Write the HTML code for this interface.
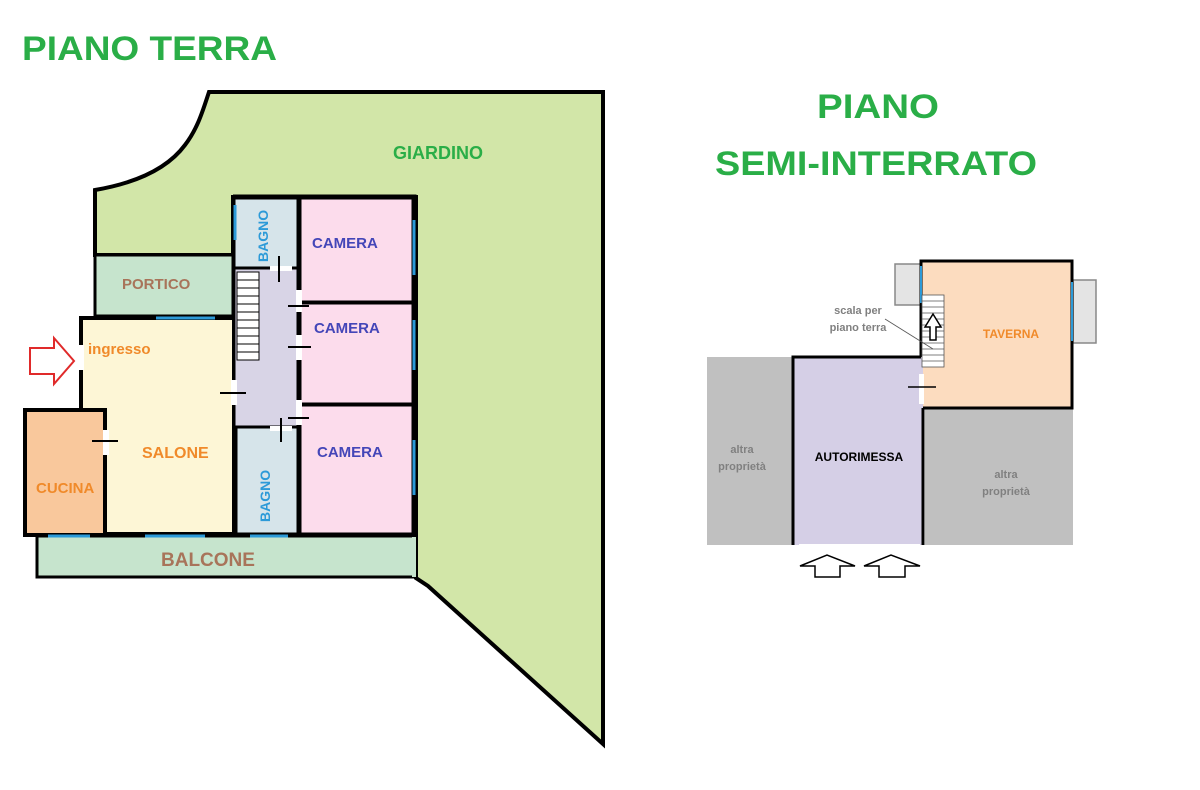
<!DOCTYPE html>
<html><head><meta charset="utf-8"><style>
html,body{margin:0;padding:0;background:#fff;}
svg{display:block;}
text{font-family:"Liberation Sans",sans-serif;font-weight:bold;}
</style></head><body>
<svg width="1200" height="790" viewBox="0 0 1200 790" xmlns="http://www.w3.org/2000/svg">
<rect width="1200" height="790" fill="#fff"/>
<!-- titles -->
<text x="22" y="60" font-size="34" fill="#2aae47" textLength="255" lengthAdjust="spacingAndGlyphs">PIANO TERRA</text>
<text x="817" y="118" font-size="34" fill="#2aae47" textLength="122" lengthAdjust="spacingAndGlyphs">PIANO</text>
<text x="715" y="175" font-size="34" fill="#2aae47" textLength="322" lengthAdjust="spacingAndGlyphs">SEMI-INTERRATO</text>

<!-- garden -->
<path d="M209,92 L603,92 L603,744 L428,586 L416,578 L416,197 L233,197 L233,255 L95,255 L95,190 C130,184 165,172 185,145 C198,128 203,110 209,92 Z" fill="#d2e6a8" stroke="#000" stroke-width="4" stroke-linejoin="miter"/>
<!-- cover inner edges of garden that are building -->
<!-- portico -->
<rect x="95" y="255" width="138" height="61" fill="#c6e4cd" stroke="#000" stroke-width="3"/>
<!-- salone -->
<rect x="81" y="318" width="153" height="216" fill="#fdf6d6" stroke="#000" stroke-width="4"/>
<!-- cucina -->
<rect x="25" y="410" width="80" height="125" fill="#f9c89c" stroke="#000" stroke-width="4"/>
<!-- corridor -->
<rect x="234" y="268" width="64" height="160" fill="#d8d4e6" stroke="#000" stroke-width="3"/>
<!-- bagni -->
<rect x="234" y="198" width="64" height="70" fill="#d6e4ea" stroke="#000" stroke-width="3"/>
<rect x="236" y="427" width="62" height="107" fill="#d6e4ea" stroke="#000" stroke-width="3"/>
<!-- camere -->
<rect x="300" y="198" width="114" height="104" fill="#fcdcec" stroke="#000" stroke-width="3"/>
<rect x="300" y="303" width="114" height="101" fill="#fcdcec" stroke="#000" stroke-width="3"/>
<rect x="300" y="405" width="114" height="129" fill="#fcdcec" stroke="#000" stroke-width="3"/>
<!-- outer building walls -->
<path d="M233,197 L414,197 L414,578" fill="none" stroke="#000" stroke-width="5"/>
<!-- balcone -->
<rect x="37" y="536" width="378" height="41" fill="#c6e4cd" stroke="#000" stroke-width="3"/>
<line x1="414" y1="537" x2="414" y2="577" stroke="#c6e4cd" stroke-width="4"/>
<!-- stairs -->
<g stroke="#000" stroke-width="1">
<rect x="237" y="272" width="22" height="88" fill="#fff"/>
<line x1="237" y1="280" x2="259" y2="280"/><line x1="237" y1="288" x2="259" y2="288"/><line x1="237" y1="296" x2="259" y2="296"/><line x1="237" y1="304" x2="259" y2="304"/><line x1="237" y1="312" x2="259" y2="312"/><line x1="237" y1="320" x2="259" y2="320"/><line x1="237" y1="328" x2="259" y2="328"/><line x1="237" y1="336" x2="259" y2="336"/><line x1="237" y1="344" x2="259" y2="344"/><line x1="237" y1="352" x2="259" y2="352"/>
</g>
<!-- door gaps -->
<g fill="#fff">
<rect x="78" y="345" width="6" height="25"/>
<rect x="103" y="430" width="6" height="25"/>
<rect x="231" y="380" width="6" height="25"/>
<rect x="296" y="290" width="6" height="22"/>
<rect x="296" y="335" width="6" height="25"/>
<rect x="296" y="400" width="6" height="25"/>
<rect x="270" y="266" width="22" height="5"/>
<rect x="270" y="426" width="22" height="5"/>
</g>
<g stroke="#000" stroke-width="2">
<line x1="92" y1="441" x2="118" y2="441"/>
<line x1="220" y1="393" x2="246" y2="393"/>
<line x1="288" y1="347" x2="311" y2="347"/>
<line x1="288" y1="306" x2="309" y2="306"/>
<line x1="288" y1="418" x2="309" y2="418"/>
<line x1="279" y1="256" x2="279" y2="282"/>
<line x1="281" y1="418" x2="281" y2="442"/>
</g>
<!-- windows -->
<g stroke="#2c9ad8" stroke-width="3">
<line x1="156" y1="318" x2="215" y2="318"/>
<line x1="48" y1="536" x2="90" y2="536"/>
<line x1="145" y1="536" x2="205" y2="536"/>
<line x1="250" y1="536" x2="288" y2="536"/>
<line x1="235" y1="205" x2="235" y2="240"/>
<line x1="414" y1="220" x2="414" y2="275"/>
<line x1="414" y1="320" x2="414" y2="370"/>
<line x1="414" y1="440" x2="414" y2="495"/>
</g>
<!-- entrance arrow -->
<path d="M30,348 L54,348 L54,338 L74,361 L54,384 L54,374 L30,374 Z" fill="#fff" stroke="#e02a2a" stroke-width="2"/>
<!-- labels -->
<text x="393" y="159" font-size="18" fill="#2aae47">GIARDINO</text>
<text x="122" y="289" font-size="15" fill="#a8745a">PORTICO</text>
<text x="88" y="354" font-size="15" fill="#f08a2a">ingresso</text>
<text x="142" y="458" font-size="16" fill="#f08a2a">SALONE</text>
<text x="36" y="493" font-size="15" fill="#f08a2a">CUCINA</text>
<text x="161" y="566" font-size="19" fill="#a8745a">BALCONE</text>
<text x="312" y="248" font-size="15" fill="#4446b8">CAMERA</text>
<text x="314" y="333" font-size="15" fill="#4446b8">CAMERA</text>
<text x="317" y="457" font-size="15" fill="#4446b8">CAMERA</text>
<text transform="translate(268,262) rotate(-90)" font-size="14" fill="#2c9ad8">BAGNO</text>
<text transform="translate(270,522) rotate(-90)" font-size="14" fill="#2c9ad8">BAGNO</text>

<!-- right plan -->
<rect x="707" y="357" width="86" height="188" fill="#c0c0c0"/>
<rect x="925" y="409" width="148" height="136" fill="#c0c0c0"/>
<rect x="895" y="264" width="26" height="41" fill="#e4e4e4" stroke="#888" stroke-width="1.5"/>
<rect x="1073" y="280" width="23" height="63" fill="#e4e4e4" stroke="#888" stroke-width="1.5"/>
<rect x="921" y="261" width="151" height="147" fill="#fcdcbf" stroke="#000" stroke-width="3"/>
<rect x="793" y="357" width="130" height="188" fill="#d5cfe6"/>
<path d="M793,545 L793,357 L921,357 M923,408 L923,545" fill="none" stroke="#000" stroke-width="3"/>
<line x1="799" y1="545" x2="920" y2="545" stroke="#fff" stroke-width="2"/>
<rect x="919" y="374" width="5" height="30" fill="#fff"/>
<line x1="908" y1="387" x2="936" y2="387" stroke="#000" stroke-width="1.5"/>
<g stroke="#2c9ad8" stroke-width="2"><line x1="921" y1="266" x2="921" y2="303"/><line x1="1072" y1="282" x2="1072" y2="341"/></g>
<g stroke="#555" stroke-width="0.8">
<rect x="922" y="295" width="22" height="72" fill="#fff"/>
<line x1="922" y1="301" x2="944" y2="301"/><line x1="922" y1="307" x2="944" y2="307"/><line x1="922" y1="313" x2="944" y2="313"/><line x1="922" y1="319" x2="944" y2="319"/><line x1="922" y1="325" x2="944" y2="325"/><line x1="922" y1="331" x2="944" y2="331"/><line x1="922" y1="337" x2="944" y2="337"/><line x1="922" y1="343" x2="944" y2="343"/><line x1="922" y1="349" x2="944" y2="349"/><line x1="922" y1="355" x2="944" y2="355"/><line x1="922" y1="361" x2="944" y2="361"/>
<line x1="885" y1="319" x2="933" y2="349"/>
</g>
<path d="M930,340 L930,327 L925,327 L933,314 L941,327 L936,327 L936,340 Z" fill="#fff" stroke="#000" stroke-width="1.5"/>
<g fill="#fff" stroke="#000" stroke-width="1.5">
<path d="M815,577 L815,566 L800,566 L827,555 L855,566 L840,566 L840,577 Z"/>
<path d="M879,577 L879,566 L864,566 L891,555 L920,566 L905,566 L905,577 Z"/>
</g>
<text x="858" y="314" font-size="11" fill="#808080" text-anchor="middle">scala per</text>
<text x="858" y="331" font-size="11" fill="#808080" text-anchor="middle">piano terra</text>
<text x="1011" y="338" font-size="12" fill="#f08a2a" text-anchor="middle">TAVERNA</text>
<text x="859" y="461" font-size="12" fill="#000" text-anchor="middle">AUTORIMESSA</text>
<text x="742" y="453" font-size="11" fill="#808080" text-anchor="middle" font-weight="normal">altra</text>
<text x="742" y="470" font-size="11" fill="#808080" text-anchor="middle" font-weight="normal">proprietà</text>
<text x="1006" y="478" font-size="11" fill="#808080" text-anchor="middle" font-weight="normal">altra</text>
<text x="1006" y="495" font-size="11" fill="#808080" text-anchor="middle" font-weight="normal">proprietà</text>
</svg>
</body></html>
